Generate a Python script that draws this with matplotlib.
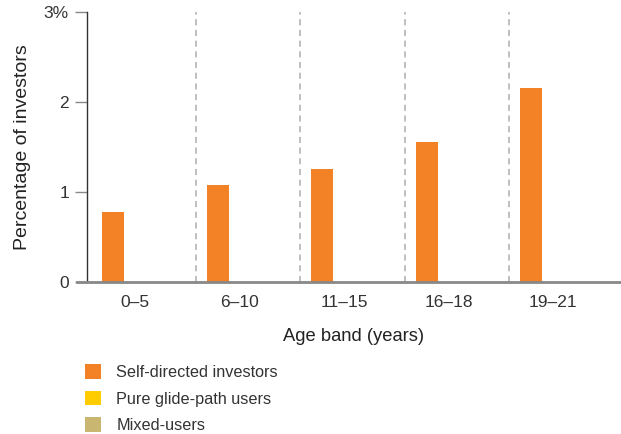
import matplotlib
matplotlib.use("Agg")
import matplotlib.pyplot as plt
import numpy as np

plt.rcParams['font.family'] = ['Liberation Sans', 'DejaVu Sans']

age_bands = ["0\u20135", "6\u201310", "11\u201315", "16\u201318", "19\u201321"]
self_directed = [0.78, 1.08, 1.26, 1.56, 2.16]
pure_glide_path = [0, 0, 0, 0, 0]
mixed_users = [0, 0, 0, 0, 0]
series_names = ["Self-directed investors", "Pure glide-path users", "Mixed-users"]
colors = ["#F38226", "#FFCC00", "#C9B671"]
y_ticks = [0, 1, 2, 3]
y_tick_labels = ["0", "1", "2", "3%"]

fig = plt.figure(figsize=(6.21, 4.34), dpi=100)
ax = fig.add_axes([0.1401, 0.3502, 0.8599, 0.6222])

x = np.arange(len(age_bands))
w = 0.21
handles = []
for i, (vals, name, c) in enumerate(zip([self_directed, pure_glide_path, mixed_users], series_names, colors)):
    b = ax.bar(x + (i - 1) * w, vals, width=w, color=c, label=name, zorder=2)
    handles.append(b)

# dashed separators between age bands
for k in range(len(age_bands) - 1):
    ax.axvline(k + 0.58, color="#ADADAD", linestyle=(0, (4, 3)), linewidth=1.1, zorder=1)

ax.set_xlim(-0.46, 4.65)
ax.set_ylim(0, 3)
ax.set_yticks(y_ticks)
ax.set_yticklabels(y_tick_labels, fontsize=12.5, color="#333333")
ax.set_xticks(x)
ax.set_xticklabels(age_bands, fontsize=12.5, color="#333333")
ax.tick_params(axis="x", length=0, pad=9)
ax.tick_params(axis="y", length=9, width=1, color="#888888", pad=4)

for s in ["top", "right"]:
    ax.spines[s].set_visible(False)
ax.spines["left"].set_color("#333333")
ax.spines["left"].set_linewidth(1.0)
ax.spines["bottom"].set_color("#888888")
ax.spines["bottom"].set_linewidth(2.0)
ax.spines["bottom"].set_bounds(-0.555, 4.65)
ax.spines["bottom"].set_zorder(3)

ax.set_ylabel("Percentage of investors", fontsize=14, color="#222222", labelpad=9)
ax.set_xlabel("Age band (years)", fontsize=13.2, color="#222222", labelpad=13)

fig.legend(handles=handles, labels=series_names, loc="upper left",
           bbox_to_anchor=(0.126, 0.176), frameon=False, fontsize=11.7,
           handlelength=1.0, handleheight=1.0, handletextpad=0.95,
           labelspacing=0.66, labelcolor="#333333", borderaxespad=0)

fig.savefig("out.png", dpi=100)
